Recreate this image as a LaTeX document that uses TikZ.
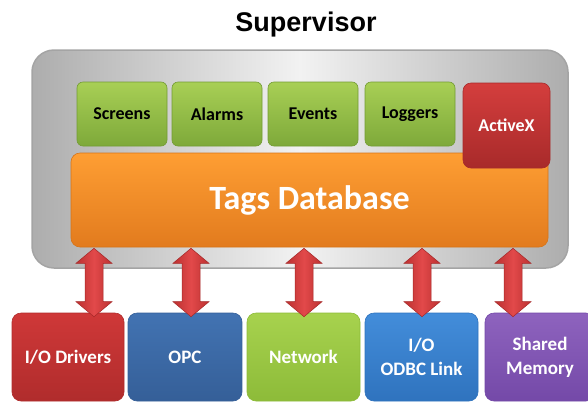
\documentclass[tikz,border=0pt]{standalone}
\usepackage{fontspec}
\setmainfont{Carlito}
\newfontfamily\titlefont{Liberation Sans}
\usetikzlibrary{calc}

% palette
\definecolor{panelEdge}{HTML}{A4A4A4}
\definecolor{panelSide}{HTML}{ADADAD}
\definecolor{panelMid}{HTML}{F2F2F2}
\definecolor{greenT}{HTML}{A8CF55}
\definecolor{greenB}{HTML}{7EA93A}
\definecolor{greenD}{HTML}{739C33}
\definecolor{redT}{HTML}{D43E3D}
\definecolor{redB}{HTML}{A82A2A}
\definecolor{orangeT}{HTML}{FE9E33}
\definecolor{orangeB}{HTML}{E27B1E}
\definecolor{orangeD}{HTML}{D77418}
\definecolor{ioRedT}{HTML}{CF3838}
\definecolor{ioRedB}{HTML}{B02C2C}
\definecolor{opcT}{HTML}{4273B2}
\definecolor{opcB}{HTML}{355F98}
\definecolor{netT}{HTML}{A7D24E}
\definecolor{netB}{HTML}{8DBB39}
\definecolor{odbcT}{HTML}{438DDA}
\definecolor{odbcB}{HTML}{2F73BE}
\definecolor{shmT}{HTML}{8E63BE}
\definecolor{shmB}{HTML}{7449A8}
\definecolor{arrowMid}{HTML}{E2494A}
\definecolor{arrowSide}{HTML}{BC3131}
\definecolor{arrowEdge}{HTML}{A52727}

\tikzset{
  panel/.style={draw=panelEdge, line width=1.5pt, rounded corners=22pt,
    left color=panelSide, right color=panelSide, middle color=panelMid,
    minimum width=536pt, minimum height=218pt, inner sep=0pt},
  module/.style={rounded corners=6pt, minimum width=90pt, minimum height=64pt,
    inner sep=0pt, top color=greenT, bottom color=greenB, draw=greenD,
    line width=0.6pt, text=black, font=\bfseries\fontsize{18}{20}\selectfont},
  activex/.style={rounded corners=8pt, minimum width=87pt, minimum height=85pt,
    inner sep=0pt, top color=redT, bottom color=redB, draw=redB,
    line width=0.6pt, text=white, font=\bfseries\fontsize{18}{20}\selectfont},
  database/.style={rounded corners=9pt, minimum width=477pt, minimum height=94pt,
    inner sep=0pt, top color=orangeT, bottom color=orangeB, draw=orangeD,
    line width=0.6pt, text=white, font=\bfseries\fontsize{34}{36}\selectfont},
  iobox/.style 2 args={rounded corners=9pt, minimum height=88pt, inner sep=0pt,
    top color=#1, bottom color=#2, draw=#2, line width=0.6pt, text=white,
    align=center, font=\bfseries\fontsize{19}{24}\selectfont},
  linkarrow/.style={left color=arrowSide, right color=arrowSide,
    middle color=arrowMid, draw=arrowEdge, line width=0.5pt},
}

% vertical double block arrow between two tip points
\newcommand\linkarrow[2]{%
  \path[linkarrow] (#1) -- ($(#1)+(18,15)$) -- ($(#1)+(9,15)$)
    -- ($(#2)+(9,-15)$) -- ($(#2)+(18,-15)$) -- (#2)
    -- ($(#2)+(-18,-15)$) -- ($(#2)+(-9,-15)$)
    -- ($(#1)+(-9,15)$) -- ($(#1)+(-18,15)$) -- cycle;}

\begin{document}
\begin{tikzpicture}[x=1pt, y=-1pt]
  \useasboundingbox (0,0) rectangle (588,402);

  % title
  \node[anchor=base, font=\titlefont\bfseries\fontsize{27}{30}\selectfont]
    (title) at (306,31) {Supervisor};

  % supervisor frame
  \node[panel] (sup) at (300,159) {};

  % modules on the tag database
  \node[module] (screens) at (122,114) {Screens};
  \node[module] (alarms)  at (217,114) {Alarms};
  \node[module] (events)  at (313,114) {Events};
  \node[module] (loggers) at (410,114) {Loggers};

  \node[database] (db) at (309.5,200) {Tags Database};
  \node[activex] (activex) at (506.5,125.5) {ActiveX};

  % communication channels
  \node[iobox={ioRedT}{ioRedB}, minimum width=112pt] (iod)  at (68,357)    {I/O Drivers};
  \node[iobox={opcT}{opcB},     minimum width=114pt] (opc)  at (185,357)   {OPC};
  \node[iobox={netT}{netB},     minimum width=113pt] (net)  at (303.5,357) {Network};
  \node[iobox={odbcT}{odbcB},   minimum width=113pt] (odbc) at (421.5,357) {I/O\\ODBC Link};
  \node[iobox={shmT}{shmB},     minimum width=110pt] (shm)  at (540,357)   {Shared\\Memory};

  % links between the database and the channels
  \coordinate (x1) at (94,0);
  \coordinate (x2) at (191,0);
  \coordinate (x3) at (304,0);
  \coordinate (x4) at (422,0);
  \coordinate (x5) at (513,0);

  \coordinate (t1) at ($(db.south -| x1)+(0,1)$);
  \coordinate (t2) at ($(db.south -| x2)+(0,1)$);
  \coordinate (t3) at ($(db.south -| x3)+(0,1)$);
  \coordinate (t4) at ($(db.south -| x4)+(0,1)$);
  \coordinate (t5) at ($(db.south -| x5)+(0,1)$);
  \coordinate (b1) at ($(iod.north -| x1)+(0,4)$);
  \coordinate (b2) at ($(opc.north -| x2)+(0,4)$);
  \coordinate (b3) at ($(net.north -| x3)+(0,4)$);
  \coordinate (b4) at ($(odbc.north -| x4)+(0,4)$);
  \coordinate (b5) at ($(shm.north -| x5)+(0,4)$);

  \linkarrow{t1}{b1}
  \linkarrow{t2}{b2}
  \linkarrow{t3}{b3}
  \linkarrow{t4}{b4}
  \linkarrow{t5}{b5}
\end{tikzpicture}
\end{document}
